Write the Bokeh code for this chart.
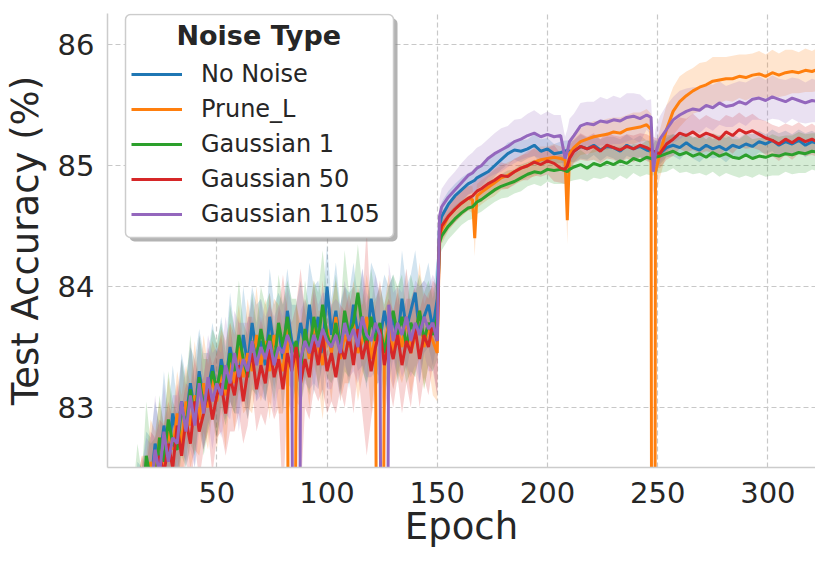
from bokeh.plotting import figure
from bokeh.models import (Legend, LegendItem, Label, BoxAnnotation, FixedTicker,
                          Range1d, ColumnDataSource)
from bokeh.embed import file_html
from bokeh.resources import INLINE

# ---------------- data ----------------
epochs = list(range(12, 151, 2)) + [
    151, 152, 155, 158, 161, 164, 166, 167, 168, 170, 173, 176, 179, 182,
    185, 188, 191, 194, 197, 200, 203, 206, 208, 209, 210, 212,
    215, 218, 221, 224, 227, 230, 233, 236, 239, 242,
    245, 247, 248, 249, 251, 254, 257, 260, 263, 266, 269, 272,
    275, 278, 281, 284, 287, 290, 293, 296, 299, 302,
    305, 308, 311, 314, 317, 320, 323, 326,
]

series_names = ["No Noise", "Prune_L", "Gaussian 1", "Gaussian 50", "Gaussian 1105"]
series_colors = ["#1f77b4", "#ff7f0e", "#2ca02c", "#d62728", "#9467bd"]

mean_no_noise = [
    81.8, 82.2, 82.05, 82.5, 82.35, 82.7, 82.55, 82.85, 82.6, 82.95,
    82.75, 83.05, 82.9, 83.2, 82.95, 83.3, 83.05, 83.15, 83.35, 83.1,
    83.4, 83.2, 83.5, 83.3, 83.25, 83.6, 83.35, 83.7, 83.45, 83.55,
    83.35, 83.75, 83.5, 83.65, 83.4, 83.8, 83.55, 83.45, 83.7, 83.5,
    83.85, 83.55, 83.75, 83.45, 84.0, 83.6, 83.8, 83.5, 83.7, 83.55,
    83.85, 83.6, 83.75, 83.5, 83.9, 83.65, 83.55, 83.8, 83.6, 83.75,
    83.55, 83.9, 83.65, 83.8, 83.95, 83.6, 83.75, 83.85, 83.65, 83.9,
    84.5, 84.58,
    84.68, 84.75, 84.8, 84.85, 84.87, 84.88, 84.9, 84.92, 84.95, 85.0, 85.05, 85.1,
    85.13, 85.12, 85.14, 85.17, 85.12, 85.14, 85.1, 85.11, 85.12, 85.13, 85.12, 85.12,
    85.16, 85.14, 85.17, 85.13, 85.16, 85.15, 85.12, 85.17, 85.14, 85.16,
    85.13, 85.12, 85.12, 85.11, 85.1, 85.15, 85.17, 85.15, 85.19, 85.15, 85.13, 85.17,
    85.14, 85.16, 85.13, 85.17, 85.15, 85.18, 85.16, 85.2, 85.18, 85.21,
    85.17, 85.2, 85.18, 85.21, 85.17, 85.2, 85.18, 85.19,
]
mean_prune_l = [
    81.7, 82.05, 82.3, 82.15, 82.55, 82.4, 82.75, 82.5, 82.8, 82.65,
    82.95, 82.7, 83.05, 82.85, 83.1, 82.9, 83.2, 83.0, 83.25, 83.05,
    83.3, 83.1, 83.4, 83.2, 83.5, 83.25, 83.45, 83.3, 83.6, 83.35,
    83.55, 83.3, 83.6, 83.4, 83.3, 83.65, 75.0, 83.45, 83.35, 83.6,
    83.4, 83.7, 83.5, 83.35, 83.65, 83.45, 83.75, 83.4, 83.6, 83.5,
    83.7, 83.45, 83.55, 83.75, 83.4, 83.6, 75.0, 83.5, 83.7, 83.45,
    83.65, 83.5, 83.75, 83.45, 83.6, 83.8, 83.5, 83.65, 83.55, 83.45,
    84.4, 84.47,
    84.58, 84.64, 84.69, 84.73, 84.72, 84.4, 84.75, 84.78, 84.82, 84.86, 84.9, 84.92,
    84.95, 84.98, 85.0, 85.03, 85.05, 85.06, 85.07, 85.06, 85.05, 84.55, 85.1, 85.15,
    85.2, 85.22, 85.24, 85.25, 85.26, 85.28, 85.27, 85.3, 85.31, 85.32,
    85.34, 85.3, 70.0, 84.95, 85.1, 85.3, 85.45, 85.53, 85.58, 85.62, 85.65, 85.67,
    85.7, 85.71, 85.72, 85.72, 85.74, 85.73, 85.75, 85.76, 85.74, 85.77,
    85.75, 85.77, 85.78, 85.77, 85.79, 85.78, 85.8, 85.79,
]
mean_gaussian_1 = [
    81.85, 82.3, 82.1, 82.6, 82.4, 82.35, 82.75, 82.55, 82.9, 82.7,
    82.65, 83.0, 82.85, 83.15, 82.9, 83.25, 83.0, 83.1, 83.3, 83.15,
    83.35, 83.15, 83.45, 83.3, 83.6, 83.4, 83.25, 83.55, 83.4, 83.65,
    83.45, 83.6, 83.35, 83.7, 83.5, 83.75, 83.45, 83.55, 83.3, 83.65,
    83.45, 83.75, 83.55, 83.85, 83.6, 83.5, 83.7, 83.45, 83.8, 83.6,
    83.7, 83.95, 83.65, 83.5, 83.75, 83.55, 83.7, 83.45, 83.65, 83.8,
    83.6, 83.75, 83.5, 83.7, 83.6, 83.8, 83.55, 83.7, 83.6, 83.75,
    84.36, 84.42,
    84.5, 84.56, 84.61, 84.65, 84.66, 84.68, 84.7, 84.72, 84.76, 84.8, 84.83, 84.85,
    84.87, 84.9, 84.93, 84.95, 84.94, 84.97, 84.96, 84.97, 84.96, 84.95, 84.97, 84.99,
    85.01, 84.98, 85.02, 85.0, 85.03, 85.01, 85.04, 85.02, 85.06, 85.04,
    85.07, 85.06, 85.05, 85.07, 85.08, 85.1, 85.12, 85.09, 85.11, 85.08, 85.1, 85.07,
    85.11, 85.08, 85.1, 85.07, 85.06, 85.09, 85.06, 85.08, 85.07, 85.09,
    85.08, 85.1, 85.09, 85.11, 85.1, 85.12, 85.11, 85.12,
]
mean_gaussian_50 = [
    81.6, 82.0, 82.25, 82.1, 82.45, 82.3, 82.6, 82.45, 82.7, 82.5,
    82.85, 82.6, 82.9, 82.7, 83.05, 82.8, 82.95, 83.15, 82.9, 83.1,
    83.2, 82.95, 83.25, 83.1, 83.35, 83.05, 83.3, 83.45, 83.15, 83.35,
    83.2, 83.5, 83.25, 83.4, 83.15, 83.45, 83.3, 83.5, 83.2, 83.4,
    83.25, 83.55, 83.35, 83.6, 83.3, 83.45, 83.25, 83.5, 83.4, 83.6,
    83.35, 83.65, 83.4, 83.55, 83.3, 83.5, 83.65, 83.35, 83.55, 83.4,
    83.6, 83.35, 83.55, 83.45, 83.65, 83.4, 83.6, 83.5, 83.7, 83.55,
    84.42, 84.5,
    84.58, 84.64, 84.69, 84.73, 84.75, 84.77, 84.79, 84.81, 84.85, 84.88, 84.92, 84.91,
    84.95, 84.98, 85.0, 85.03, 85.01, 85.04, 85.02, 84.98, 84.97, 85.0, 85.06, 85.12,
    85.16, 85.14, 85.16, 85.12, 85.17, 85.15, 85.13, 85.16, 85.14, 85.17,
    85.15, 85.13, 85.12, 85.11, 85.1, 85.18, 85.22, 85.27, 85.25, 85.28, 85.24, 85.27,
    85.25, 85.22, 85.28, 85.25, 85.3, 85.27, 85.29, 85.26, 85.23, 85.21,
    85.18, 85.22, 85.19, 85.23, 85.2, 85.22, 85.19, 85.21,
]
mean_gaussian_1105 = [
    81.75, 82.15, 82.0, 82.45, 82.3, 82.65, 82.45, 82.8, 82.55, 82.75,
    82.7, 83.05, 82.8, 83.1, 82.85, 83.2, 82.95, 83.25, 83.05, 83.2,
    83.1, 83.35, 83.2, 83.45, 83.25, 83.4, 83.3, 83.55, 83.35, 83.5,
    83.4, 83.55, 83.35, 83.5, 83.45, 83.6, 83.5, 75.0, 83.4, 83.55,
    83.45, 83.6, 83.5, 83.65, 83.55, 83.5, 83.6, 83.45, 83.7, 83.55,
    83.65, 83.5, 83.75, 83.6, 83.55, 83.7, 83.6, 75.0, 83.85, 83.55,
    83.7, 83.6, 83.75, 83.55, 83.7, 83.6, 83.75, 83.65, 83.7, 83.55,
    84.58, 84.66,
    84.74, 84.8, 84.86, 84.92, 84.94, 84.96, 84.98, 85.0, 85.06, 85.1, 85.13, 85.16,
    85.2, 85.22, 85.25, 85.27, 85.24, 85.26, 85.24, 85.25, 85.06, 85.12, 85.2, 85.25,
    85.33, 85.35, 85.34, 85.37, 85.36, 85.38, 85.37, 85.4, 85.41, 85.39,
    85.42, 85.4, 84.95, 85.1, 85.22, 85.3, 85.38, 85.42, 85.45, 85.47, 85.46, 85.5,
    85.48, 85.52, 85.49, 85.5, 85.53, 85.51, 85.55, 85.56, 85.54, 85.57,
    85.55, 85.53, 85.56, 85.54, 85.52, 85.54, 85.53, 85.52,
]

spread_no_noise = [
    .4, .35, .45, .3, .4, .35, .3, .45, .35, .4,
    .3, .4, .35, .3, .45, .35, .4, .3, .35, .4,
    .35, .3, .45, .35, .3, .4, .35, .3, .4, .35,
    .3, .4, .35, .3, .45, .35, .3, .4, .35, .3,
    .35, .45, .3, .4, .35, .3, .4, .35, .3, .4,
    .35, .3, .4, .35, .3, .45, .35, .3, .4, .35,
    .3, .4, .35, .3, .35, .4, .3, .35, .3, .35,
    .12, .12,
    .11, .1, .1, .09, .09, .1, .1, .09, .1, .09, .08, .09,
    .08, .09, .08, .09, .1, .09, .08, .09, .09, .08, .09, .09,
    .1, .09, .08, .09, .08, .09, .1, .09, .08, .09,
    .08, .09, .1, .1, .09, .08, .09, .1, .08, .09, .1, .09,
    .08, .09, .1, .09, .08, .09, .1, .09, .08, .09,
    .1, .09, .08, .09, .1, .09, .08, .09,
]
spread_prune_l = [
    .4, .35, .3, .45, .35, .4, .3, .35, .45, .3,
    .35, .4, .3, .35, .45, .3, .4, .35, .3, .4,
    .35, .45, .3, .4, .35, .3, .45, .35, .4, .3,
    .35, .4, .3, .45, .35, .3, 3.0, .4, .35, .3,
    .4, .35, .3, .45, .35, .4, .3, .35, .4, .3,
    .35, .4, .3, .35, .45, .3, 3.0, .35, .4, .3,
    .35, .3, .4, .35, .3, .4, .35, .3, .45, .4,
    .12, .12,
    .12, .11, .11, .1, .11, .15, .1, .1, .1, .11, .1, .11,
    .1, .11, .1, .12, .11, .1, .11, .1, .11, .2, .12, .12,
    .11, .12, .13, .12, .13, .12, .13, .12, .13, .12,
    .13, .13, 5.0, .2, .2, .2, .2, .21, .2, .19, .2, .19,
    .2, .19, .18, .19, .18, .19, .18, .19, .18, .19,
    .18, .19, .18, .17, .18, .17, .18, .17,
]
spread_gaussian_1 = [
    .45, .4, .35, .45, .3, .4, .35, .3, .4, .35,
    .3, .4, .35, .45, .3, .35, .4, .3, .35, .4,
    .35, .3, .4, .35, .45, .3, .35, .4, .3, .35,
    .4, .35, .3, .4, .35, .3, .45, .35, .3, .4,
    .35, .3, .4, .45, .35, .3, .4, .35, .5, .35,
    .3, .4, .35, .3, .4, .35, .3, .4, .35, .3,
    .4, .35, .3, .4, .35, .3, .4, .35, .3, .35,
    .12, .12,
    .11, .11, .1, .1, .1, .1, .1, .1, .1, .1, .1, .11,
    .1, .11, .1, .1, .11, .1, .11, .12, .11, .11, .1, .11,
    .12, .11, .12, .11, .12, .13, .12, .13, .12, .13,
    .14, .14, .13, .14, .14, .15, .14, .15, .16, .15, .16, .15,
    .16, .17, .16, .15, .16, .17, .16, .15, .16, .17,
    .16, .15, .16, .17, .16, .15, .16, .17,
]
spread_gaussian_50 = [
    .45, .4, .35, .4, .35, .45, .3, .4, .35, .4,
    .35, .4, .3, .45, .35, .4, .3, .35, .45, .35,
    .4, .35, .45, .3, .4, .35, .45, .3, .35, .4,
    .35, .45, .35, .4, .95, .35, .4, .35, .95, .4,
    .35, .4, .3, .45, .35, .4, .3, .35, .4, .35,
    .4, .35, .45, .95, .4, .35, .4, .45, .35, .4,
    .35, .4, .35, .45, .35, .4, .35, .4, .35, .45,
    .12, .12,
    .11, .11, .1, .1, .1, .1, .1, .11, .1, .1, .11, .1,
    .11, .1, .12, .11, .1, .11, .15, .12, .12, .11, .11, .1,
    .11, .1, .11, .1, .11, .1, .11, .1, .11, .1,
    .11, .11, .12, .12, .12, .13, .14, .13, .14, .15, .14, .15,
    .14, .15, .14, .15, .14, .13, .14, .13, .14, .13,
    .14, .13, .14, .13, .12, .13, .12, .13,
]
spread_gaussian_1105 = [
    .4, .35, .45, .3, .4, .45, .35, .4, .3, .35,
    .4, .35, .3, .45, .35, .4, .3, .35, .4, .3,
    .35, .4, .3, .35, .45, .3, .4, .35, .3, .4,
    .35, .3, .4, .35, .3, .4, .35, 3.0, .4, .35,
    .3, .4, .35, .3, .4, .35, .3, .4, .35, .3,
    .35, .3, .4, .35, .3, .4, .35, 3.0, .35, .4,
    .3, .35, .4, .3, .35, .4, .3, .35, .4, .45,
    .15, .15,
    .15, .15, .16, .16, .17, .17, .17, .17, .16, .17, .18, .17,
    .18, .17, .18, .19, .18, .19, .18, .17, .18, .18, .19, .18,
    .19, .18, .19, .2, .19, .2, .19, .2, .19, .2,
    .12, .15, .2, .2, .19, .2, .19, .2, .19, .18, .19, .18,
    .19, .18, .17, .18, .17, .18, .17, .18, .17, .18,
    .17, .18, .17, .18, .17, .18, .17, .18,
]

x_ticks = [50, 100, 150, 200, 250, 300]
y_ticks = [83, 84, 85, 86]

means = [mean_no_noise, mean_prune_l, mean_gaussian_1, mean_gaussian_50, mean_gaussian_1105]
spreads = [spread_no_noise, spread_prune_l, spread_gaussian_1, spread_gaussian_50, spread_gaussian_1105]

# ---------------- figure ----------------
FONT = "DejaVu Sans"
TXT = "#262626"
X0, X1 = 0.4, 321.6
Y0, Y1 = 82.503, 86.26

p = figure(width=815, height=551, output_backend="svg", toolbar_location=None,
           x_range=Range1d(X0, X1), y_range=Range1d(Y0, Y1),
           min_border_left=106, min_border_right=0, min_border_top=13,
           min_border_bottom=84)
p.outline_line_color = None
p.background_fill_color = "white"
p.border_fill_color = "white"

for ax in (p.xaxis[0], p.yaxis[0]):
    ax.axis_line_color = "#cccccc"
    ax.axis_line_width = 1.5
    ax.major_tick_line_color = None
    ax.minor_tick_line_color = None
    ax.major_tick_out = 0
    ax.major_tick_in = 0
    ax.major_label_text_font = FONT
    ax.major_label_text_font_size = "29px"
    ax.major_label_text_color = TXT
    ax.axis_label_text_font = FONT
    ax.axis_label_text_font_size = "37px"
    ax.axis_label_text_font_style = "normal"
    ax.axis_label_text_color = TXT

p.xaxis.axis_label = "Epoch"
p.yaxis.axis_label = "Test Accuracy (%)"
p.xaxis.ticker = FixedTicker(ticks=x_ticks)
p.yaxis.ticker = FixedTicker(ticks=y_ticks)
p.xaxis.major_label_standoff = 14
p.xaxis.axis_label_standoff = -1
p.yaxis.major_label_standoff = 13
p.yaxis.axis_label_standoff = 8

for g in (p.xgrid[0], p.ygrid[0]):
    g.grid_line_color = "#c8c8c8"
    g.grid_line_width = 1.2
    g.grid_line_dash = "5 3"

sources = []
for m, s in zip(means, spreads):
    lo = [a - b for a, b in zip(m, s)]
    hi = [a + b for a, b in zip(m, s)]
    sources.append(ColumnDataSource(dict(x=epochs, y=m, lo=lo, hi=hi)))

for src, c in zip(sources, series_colors):
    p.varea(x="x", y1="lo", y2="hi", source=src, fill_color=c, fill_alpha=0.2)

line_renderers = []
for src, c in zip(sources, series_colors):
    r = p.line(x="x", y="y", source=src, line_color=c, line_width=3)
    line_renderers.append(r)

# legend shadow and frame
shadow = BoxAnnotation(left=22, right=290, bottom=226, top=449,
                       left_units="screen", right_units="screen",
                       bottom_units="screen", top_units="screen",
                       fill_color="#808080", fill_alpha=0.6, line_color=None)
frame = BoxAnnotation(left=18, right=286, bottom=230, top=453,
                      left_units="screen", right_units="screen",
                      bottom_units="screen", top_units="screen",
                      fill_color="white", fill_alpha=1.0,
                      line_color="#cccccc", line_width=1.5, line_alpha=1.0)
for b in (shadow, frame):
    try:
        b.border_radius = 5
    except Exception:
        pass
p.add_layout(shadow)
p.add_layout(frame)

legend = Legend(items=[LegendItem(label=n, renderers=[r])
                       for n, r in zip(series_names, line_renderers)],
                location=(24, 239), title=" ",
                title_text_font=FONT, title_text_font_size="27px",
                title_text_font_style="bold", title_standoff=6,
                label_text_font=FONT, label_text_font_size="24px",
                label_text_color=TXT, glyph_width=51, glyph_height=28,
                label_height=28, label_standoff=19, spacing=7,
                padding=10, margin=0, border_line_color=None,
                background_fill_alpha=0.0)
p.add_layout(legend)

px_per_x = 709.0 / (X1 - X0)
px_per_y = 454.0 / (Y1 - Y0)
title_lbl = Label(x=X0 + 151.5 / px_per_x, y=Y1 - 22 / px_per_y,
                  text="Noise Type", text_align="center", text_baseline="alphabetic",
                  text_font=FONT, text_font_size="27px", text_font_style="bold",
                  text_color=TXT, level="overlay")
p.add_layout(title_lbl)

open("out.html", "w").write(file_html(p, INLINE))
